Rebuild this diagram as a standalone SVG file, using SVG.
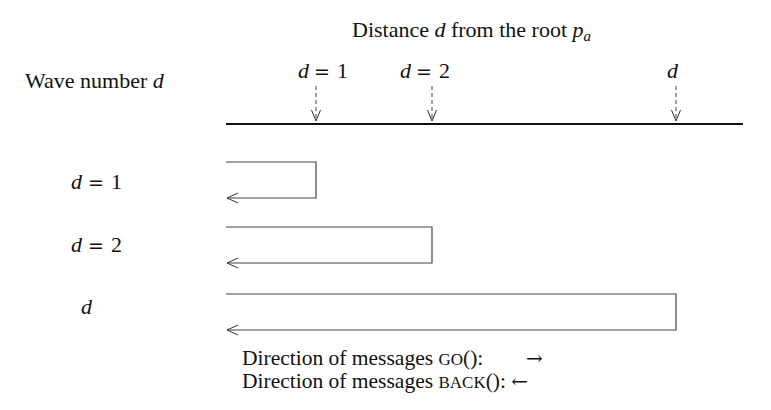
<svg xmlns="http://www.w3.org/2000/svg" width="771" height="410" viewBox="0 0 771 410">
<style>
text{font-family:"Liberation Serif","Times New Roman",serif;font-size:22px;fill:#111}
.i{font-style:italic}
.sc{font-size:17px}
.eq{font-family:"DejaVu Sans",sans-serif;font-size:19px}
.ar{font-family:"DejaVu Serif",serif;font-size:20px}
.lg{font-size:21.5px}
.w{fill:none;stroke:#444;stroke-width:1.2}
.dash{fill:none;stroke:#444;stroke-width:1;stroke-dasharray:4 3}
.ah{fill:none;stroke:#333;stroke-width:1}
</style>
<rect width="771" height="410" fill="#fff"/>
<g id="title"><text x="352" y="37">Distance <tspan class="i">d</tspan> from the root <tspan class="i">p</tspan><tspan class="i" font-size="15" dy="4">a</tspan></text></g>
<g id="wavelabel"><text x="25" y="88">Wave number <tspan class="i">d</tspan></text></g>
<g id="axis">
<line x1="226" y1="124" x2="743" y2="124" stroke="#111" stroke-width="2"/>
<text y="78"><tspan class="i" x="298">d</tspan><tspan class="eq" x="314">=</tspan><tspan x="337">1</tspan></text>
<text y="78"><tspan class="i" x="400">d</tspan><tspan class="eq" x="416">=</tspan><tspan x="439">2</tspan></text>
<text x="667" y="78" class="i">d</text>
</g>
<g id="connectors">
<line class="dash" x1="316" y1="86" x2="316" y2="121"/>
<path class="ah" d="M311.5,110 L316,121 L320.5,110"/>
<line class="dash" x1="432" y1="86" x2="432" y2="121"/>
<path class="ah" d="M427.5,110 L432,121 L436.5,110"/>
<line class="dash" x1="676" y1="86" x2="676" y2="121"/>
<path class="ah" d="M671.5,110 L676,121 L680.5,110"/>
</g>
<g id="wave1">
<text y="189"><tspan class="i" x="71">d</tspan><tspan class="eq" x="88">=</tspan><tspan x="111">1</tspan></text>
<path class="w" d="M226,162 H316 V198 H227"/>
<path class="ah" d="M238,193 L227,198 L238,203"/>
</g>
<g id="wave2">
<text y="252"><tspan class="i" x="71">d</tspan><tspan class="eq" x="88">=</tspan><tspan x="111">2</tspan></text>
<path class="w" d="M226,227 H432 V263 H227"/>
<path class="ah" d="M238,258 L227,263 L238,268"/>
</g>
<g id="waved">
<text x="81" y="314" class="i">d</text>
<path class="w" d="M226,294 H676 V330 H227"/>
<path class="ah" d="M238,325 L227,330 L238,335"/>
</g>
<g id="legend">
<text x="242" y="365" class="lg">Direction of messages <tspan class="sc">GO</tspan>():</text>
<text x="526" y="365" class="ar">→</text>
<text x="242" y="388" class="lg">Direction of messages <tspan class="sc">BACK</tspan>(): <tspan class="ar">←</tspan></text>
</g>
</svg>
